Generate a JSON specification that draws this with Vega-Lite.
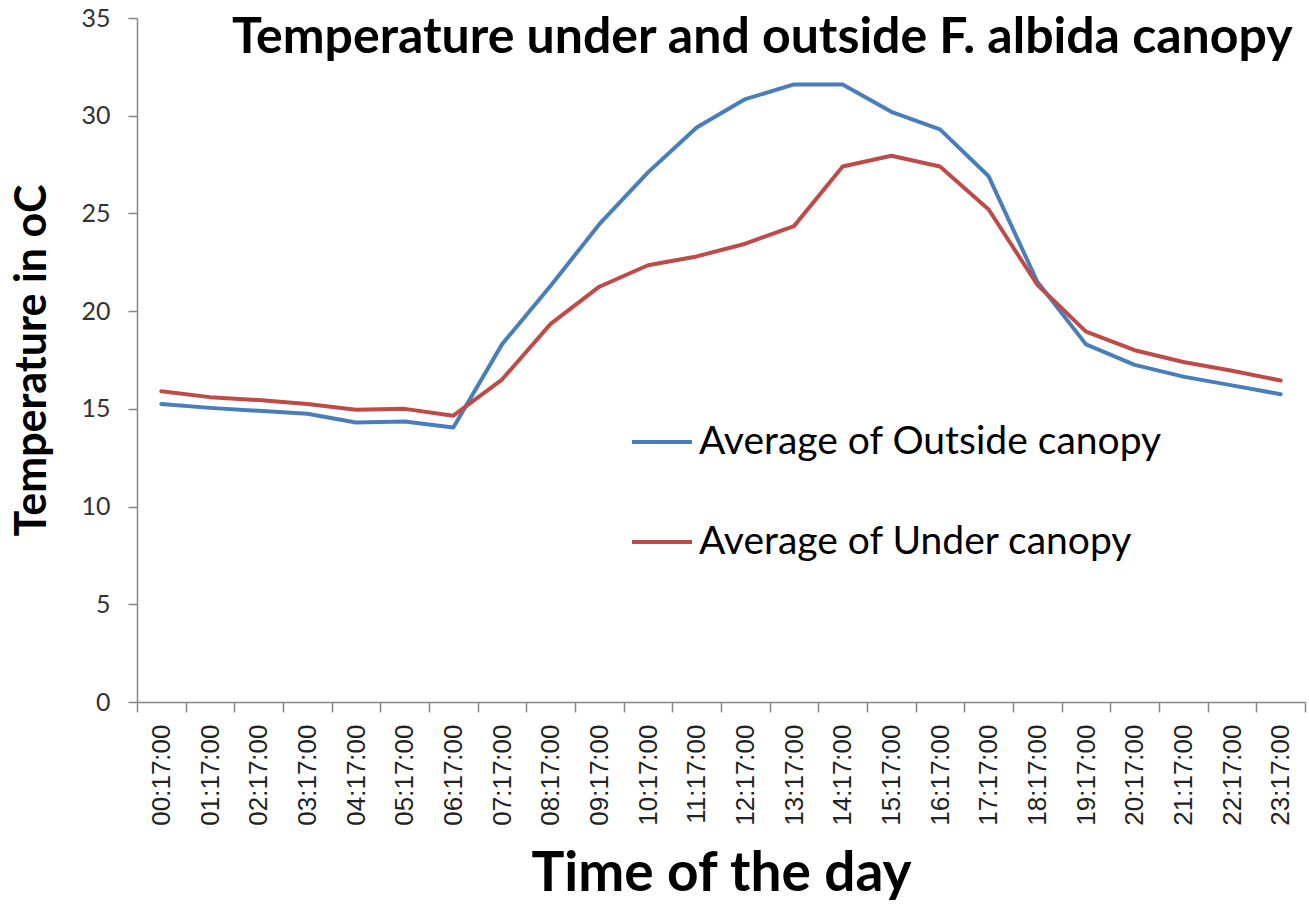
{
  "$schema": "https://vega.github.io/schema/vega-lite/v6.json",
  "width": 1168,
  "height": 684,
  "autosize": {"type": "none"},
  "padding": {"left": 137, "top": 18, "right": 4, "bottom": 206},
  "background": "white",
  "title": {
    "text": "Temperature under and outside F. albida canopy",
    "font": "Lato",
    "fontWeight": "bold",
    "fontSize": 50,
    "color": "black",
    "anchor": "start",
    "frame": "group",
    "baseline": "alphabetic",
    "offset": -57,
    "dx": 95,
    "dy": 40
  },
  "config": {
    "view": {"stroke": null},
    "axis": {"grid": false, "domainColor": "#868686", "tickColor": "#868686", "domainWidth": 1.5, "tickWidth": 1.5}
  },
  "data": {
    "values": [
      {"time": "00:17:00", "series": "Average of Outside canopy", "temp": 15.25},
      {"time": "01:17:00", "series": "Average of Outside canopy", "temp": 15.05},
      {"time": "02:17:00", "series": "Average of Outside canopy", "temp": 14.9},
      {"time": "03:17:00", "series": "Average of Outside canopy", "temp": 14.75},
      {"time": "04:17:00", "series": "Average of Outside canopy", "temp": 14.3},
      {"time": "05:17:00", "series": "Average of Outside canopy", "temp": 14.35},
      {"time": "06:17:00", "series": "Average of Outside canopy", "temp": 14.05},
      {"time": "07:17:00", "series": "Average of Outside canopy", "temp": 18.3},
      {"time": "08:17:00", "series": "Average of Outside canopy", "temp": 21.3},
      {"time": "09:17:00", "series": "Average of Outside canopy", "temp": 24.45},
      {"time": "10:17:00", "series": "Average of Outside canopy", "temp": 27.1},
      {"time": "11:17:00", "series": "Average of Outside canopy", "temp": 29.4},
      {"time": "12:17:00", "series": "Average of Outside canopy", "temp": 30.85},
      {"time": "13:17:00", "series": "Average of Outside canopy", "temp": 31.6},
      {"time": "14:17:00", "series": "Average of Outside canopy", "temp": 31.6},
      {"time": "15:17:00", "series": "Average of Outside canopy", "temp": 30.2},
      {"time": "16:17:00", "series": "Average of Outside canopy", "temp": 29.3},
      {"time": "17:17:00", "series": "Average of Outside canopy", "temp": 26.9},
      {"time": "18:17:00", "series": "Average of Outside canopy", "temp": 21.5},
      {"time": "19:17:00", "series": "Average of Outside canopy", "temp": 18.3},
      {"time": "20:17:00", "series": "Average of Outside canopy", "temp": 17.25},
      {"time": "21:17:00", "series": "Average of Outside canopy", "temp": 16.65},
      {"time": "22:17:00", "series": "Average of Outside canopy", "temp": 16.2},
      {"time": "23:17:00", "series": "Average of Outside canopy", "temp": 15.75},
      {"time": "00:17:00", "series": "Average of Under canopy", "temp": 15.9},
      {"time": "01:17:00", "series": "Average of Under canopy", "temp": 15.6},
      {"time": "02:17:00", "series": "Average of Under canopy", "temp": 15.45},
      {"time": "03:17:00", "series": "Average of Under canopy", "temp": 15.25},
      {"time": "04:17:00", "series": "Average of Under canopy", "temp": 14.95},
      {"time": "05:17:00", "series": "Average of Under canopy", "temp": 15.0},
      {"time": "06:17:00", "series": "Average of Under canopy", "temp": 14.65},
      {"time": "07:17:00", "series": "Average of Under canopy", "temp": 16.5},
      {"time": "08:17:00", "series": "Average of Under canopy", "temp": 19.35},
      {"time": "09:17:00", "series": "Average of Under canopy", "temp": 21.25},
      {"time": "10:17:00", "series": "Average of Under canopy", "temp": 22.35},
      {"time": "11:17:00", "series": "Average of Under canopy", "temp": 22.8},
      {"time": "12:17:00", "series": "Average of Under canopy", "temp": 23.45},
      {"time": "13:17:00", "series": "Average of Under canopy", "temp": 24.35},
      {"time": "14:17:00", "series": "Average of Under canopy", "temp": 27.4},
      {"time": "15:17:00", "series": "Average of Under canopy", "temp": 27.95},
      {"time": "16:17:00", "series": "Average of Under canopy", "temp": 27.4},
      {"time": "17:17:00", "series": "Average of Under canopy", "temp": 25.2},
      {"time": "18:17:00", "series": "Average of Under canopy", "temp": 21.35},
      {"time": "19:17:00", "series": "Average of Under canopy", "temp": 18.95},
      {"time": "20:17:00", "series": "Average of Under canopy", "temp": 18.0},
      {"time": "21:17:00", "series": "Average of Under canopy", "temp": 17.4},
      {"time": "22:17:00", "series": "Average of Under canopy", "temp": 16.95},
      {"time": "23:17:00", "series": "Average of Under canopy", "temp": 16.45}
    ]
  },
  "mark": {"type": "line", "strokeWidth": 4, "strokeCap": "round", "strokeJoin": "round"},
  "encoding": {
    "x": {
      "field": "time",
      "type": "ordinal",
      "scale": {"type": "band", "paddingInner": 0, "paddingOuter": 0},
      "axis": {
        "title": "Time of the day",
        "titleFont": "Lato",
        "titleFontWeight": "bold",
        "titleFontSize": 55,
        "titleColor": "black",
        "titlePadding": 22,
        "labelAngle": -90,
        "labelAlign": "right",
        "labelBaseline": "middle",
        "labelFont": "Liberation Sans",
        "labelFontSize": 26,
        "labelColor": "#222",
        "labelPadding": 12,
        "tickBand": "extent",
        "tickSize": 10
      }
    },
    "y": {
      "field": "temp",
      "type": "quantitative",
      "scale": {"domain": [0, 35], "nice": false},
      "axis": {
        "title": "Temperature in oC",
        "titleFont": "Lato",
        "titleFontWeight": "bold",
        "titleFontSize": 43,
        "titleColor": "black",
        "titlePadding": 26,
        "values": [0, 5, 10, 15, 20, 25, 30, 35],
        "labelFont": "Lato",
        "labelFontSize": 25,
        "labelColor": "#333",
        "labelPadding": 18,
        "tickSize": 9
      }
    },
    "color": {
      "field": "series",
      "type": "nominal",
      "scale": {"domain": ["Average of Outside canopy", "Average of Under canopy"], "range": ["#4A7EBB", "#BE4B48"]},
      "legend": {
        "title": null,
        "orient": "none",
        "legendX": 493,
        "legendY": 392,
        "symbolType": "stroke",
        "symbolSize": 3600,
        "symbolStrokeWidth": 4,
        "labelFont": "Lato",
        "labelFontSize": 39,
        "labelColor": "black",
        "labelOffset": 5,
        "rowPadding": 48,
        "labelLimit": 800
      }
    }
  }
}
